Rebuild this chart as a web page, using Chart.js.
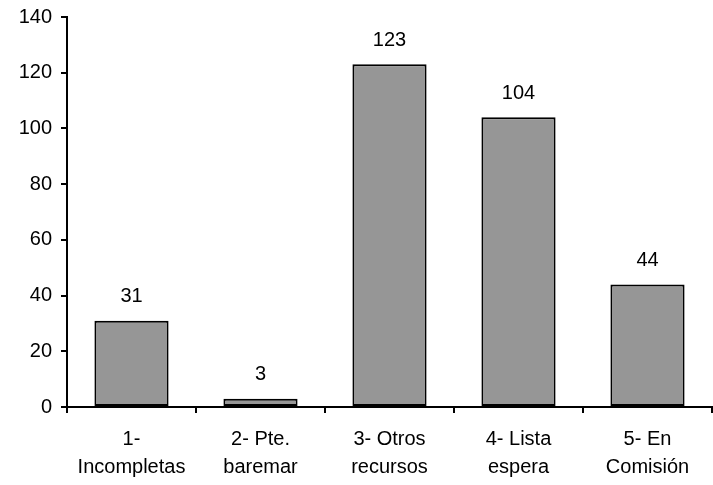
<!DOCTYPE html>
<html>
<head>
<meta charset="utf-8">
<script src="https://cdn.jsdelivr.net/npm/chart.js@4.4.0/dist/chart.umd.min.js"></script>
<style>
  html, body { margin: 0; padding: 0; background: #fff; }
  #wrap { width: 713px; height: 485px; }
</style>
</head>
<body>
<div id="wrap"><canvas id="c" width="713" height="485"></canvas></div>
<script>
// Chart data
const categories = [['1-', 'Incompletas'], ['2- Pte.', 'baremar'], ['3- Otros', 'recursos'], ['4- Lista', 'espera'], ['5- En', 'Comisión']];
const values = [31, 3, 123, 104, 44];
const yTicks = [0, 20, 40, 60, 80, 100, 120, 140];

Chart.defaults.font.family = "'Liberation Sans', Arial, sans-serif";
Chart.defaults.font.size = 20;
Chart.defaults.color = '#000';

// draws the value above each bar
const valueLabels = {
    id: 'valueLabels',
    afterDatasetsDraw(chart) {
        const ctx = chart.ctx;
        const meta = chart.getDatasetMeta(0);
        ctx.save();
        ctx.font = "20px 'Liberation Sans', Arial, sans-serif";
        ctx.fillStyle = '#000';
        ctx.textAlign = 'center';
        ctx.textBaseline = 'middle';
        meta.data.forEach((bar, i) => {
            ctx.fillText(values[i], bar.x, bar.y - 24);
        });
        ctx.restore();
    }
};

const ctx = document.getElementById('c').getContext('2d');
new Chart(ctx, {
    type: 'bar',
    data: {
        labels: categories,
        datasets: [{
            data: values,
            backgroundColor: '#969696',
            borderColor: '#000',
            borderWidth: 2,
            borderSkipped: false,
            categoryPercentage: 1,
            barPercentage: 0.575
        }]
    },
    options: {
        responsive: false,
        animation: false,
        layout: { padding: { top: 17, right: 1, left: 0, bottom: 0 } },
        plugins: { legend: { display: false }, tooltip: { enabled: false } },
        scales: {
            x: {
                grid: { display: true, drawOnChartArea: false, offset: true, tickLength: 6, color: '#000', lineWidth: 2 },
                border: { display: true, color: '#000', width: 2 },
                ticks: { padding: 12, maxRotation: 0, autoSkip: false, font: { size: 20, lineHeight: 1.4 } },
                afterFit: s => { s.height = 78; s.paddingLeft = 0; s.paddingRight = 0; }
            },
            y: {
                min: 0, max: 140,
                afterBuildTicks: s => { s.ticks = yTicks.map(v => ({ value: v })); },
                grid: { display: true, drawOnChartArea: false, tickLength: 6, color: '#000', lineWidth: 2 },
                border: { display: true, color: '#000', width: 2 },
                ticks: { padding: 9 },
                afterFit: s => { s.width = 67; s.paddingTop = 0; s.paddingBottom = 0; }
            }
        }
    },
    plugins: [valueLabels]
});
</script>
</body>
</html>
